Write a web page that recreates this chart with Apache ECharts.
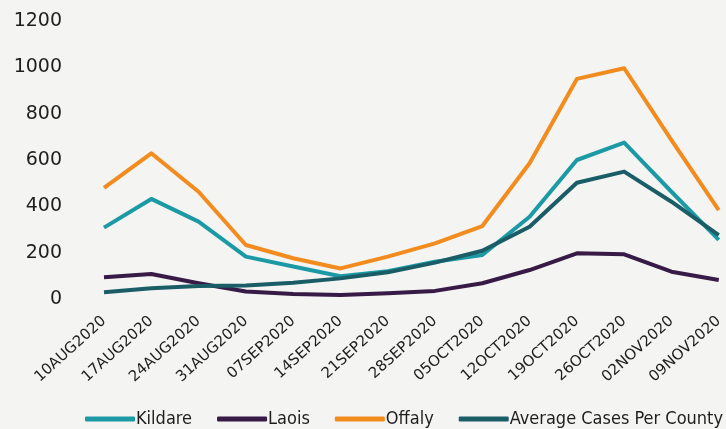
<!DOCTYPE html>
<html>
<head>
<meta charset="utf-8">
<script src="https://cdn.jsdelivr.net/npm/echarts@6/dist/echarts.min.js"></script>
<style>
  html, body { margin: 0; padding: 0; background: #f4f4f2; }
  #chart { width: 726px; height: 429px; }
</style>
</head>
<body>
<div id="chart"></div>
<script>
// Weekly COVID-19 cases by county
const weeks = ['10AUG2020', '17AUG2020', '24AUG2020', '31AUG2020', '07SEP2020', '14SEP2020', '21SEP2020',
  '28SEP2020', '05OCT2020', '12OCT2020', '19OCT2020', '26OCT2020', '02NOV2020', '09NOV2020'];
const kildare = [308, 432, 334, 183, 140, 98, 120, 161, 190, 355, 600, 675, 463, 255];
const laois   = [94, 108, 68, 32, 22, 17, 25, 35, 68, 125, 197, 193, 118, 82];
const offaly  = [480, 629, 463, 233, 176, 132, 183, 240, 315, 586, 950, 996, 686, 384];
const average = [29, 46, 56, 58, 70, 89, 115, 157, 208, 312, 502, 550, 420, 276];
const yTicks = { min: 0, max: 1200, interval: 200 };

const colors = { kildare: '#1b9aa6', laois: '#371a45', offaly: '#f28c1f', average: '#1a5d66' };

function lineSeries(name, data, color) {
  return {
    name: name,
    type: 'line',
    data: data,
    symbol: 'none',
    lineStyle: { width: 4, color: color, join: 'round' },
    itemStyle: { color: color }
  };
}

const chart = echarts.init(document.getElementById('chart'));
chart.setOption({
  backgroundColor: '#f4f4f2',
  animation: false,
  grid: { left: 104, right: 1, top: 21, bottom: 130 },
  xAxis: {
    type: 'category',
    data: weeks,
    boundaryGap: false,
    axisLine: { show: false },
    axisTick: { show: false },
    axisLabel: {
      rotate: 42,
      margin: 20,
      interval: 0,
      color: '#1e1e1e',
      fontFamily: 'DejaVu Sans',
      fontSize: 15
    }
  },
  yAxis: {
    type: 'value',
    min: yTicks.min,
    max: yTicks.max,
    interval: yTicks.interval,
    splitLine: { show: false },
    axisLine: { show: false },
    axisTick: { show: false },
    axisLabel: {
      margin: 42,
      color: '#1e1e1e',
      fontFamily: 'DejaVu Sans',
      fontSize: 19,
      formatter: function (v) { return String(v); }
    }
  },
  legend: {
    top: 410,
    left: 85,
    padding: 0,
    itemWidth: 50,
    itemHeight: 5,
    itemGap: 25,
    icon: 'roundRect',
    textStyle: {
      fontFamily: 'DejaVu Sans Condensed, DejaVu Sans',
      fontSize: 18,
      color: '#1e1e1e',
      padding: [0, 0, 0, -4]
    },
    data: ['Kildare', 'Laois', 'Offaly', 'Average Cases Per County']
  },
  series: [
    lineSeries('Kildare', kildare, colors.kildare),
    lineSeries('Laois', laois, colors.laois),
    lineSeries('Offaly', offaly, colors.offaly),
    lineSeries('Average Cases Per County', average, colors.average)
  ]
});
</script>
</body>
</html>
